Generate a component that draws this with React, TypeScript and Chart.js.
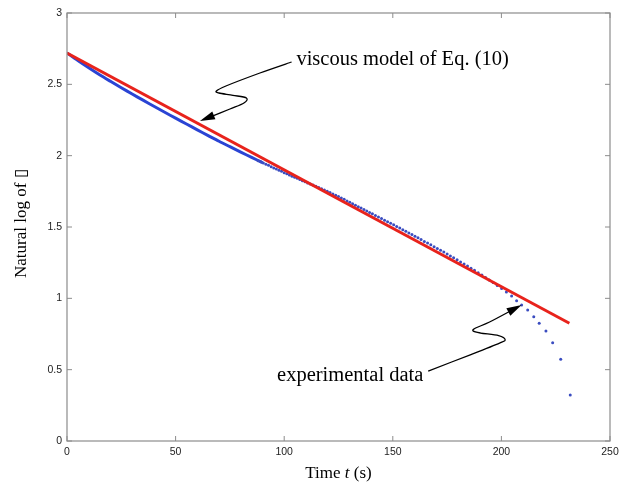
import React, { useEffect, useRef } from "react";
import { Chart, registerables } from "chart.js";

Chart.register(...registerables);

// ---- data ----
const xTicks = [0, 50, 100, 150, 200, 250];
const yTicks = [0, 0.5, 1, 1.5, 2, 2.5, 3];

// viscous model of Eq. (10)
const modelT = [0, 231.3];
const modelY = [2.72, 0.825];

// experimental data (dense early part, appears as a solid line)
const expLineT = [0, 5, 10, 15, 20, 25, 30, 35, 40, 45, 50, 55, 60, 65, 70, 75, 80, 85, 90];
const expLineY = [2.72, 2.667, 2.616, 2.567, 2.521, 2.476, 2.432, 2.389, 2.346, 2.304, 2.263, 2.222, 2.181, 2.141, 2.101, 2.063, 2.025, 1.988, 1.951];

// experimental data (individual samples)
const expDotT = [
  88, 89.2, 90.4, 91.6, 92.8, 94, 95.2, 96.4, 97.6, 98.8, 100, 101.2, 102.4, 103.6, 104.8, 106, 107.2, 108.4, 109.6, 110.8,
  112, 113.3, 114.6, 115.9, 117.2, 118.5, 119.8, 121.1, 122.4, 123.7, 125, 126.3, 127.6, 128.9, 130.2, 131.5, 132.8, 134.1,
  135.4, 136.7, 138, 139.3, 140.6, 142, 143.4, 144.8, 146.2, 147.6, 149, 150.4, 151.8, 153.2, 154.6, 156, 157.4, 158.8,
  160.2, 161.6, 163, 164.5, 166, 167.5, 169, 170.5, 172, 173.5, 175, 176.5, 178, 179.6, 181.2, 182.8, 184.4, 186, 187.6,
  189.3, 191, 192.7, 194.4, 196.2, 198.1, 200.1, 202.3, 204.7, 207, 209.3, 212.1, 214.9, 217.4, 220.5, 223.6, 227.3, 231.7,
];
const expDotY = [
  1.965, 1.957, 1.948, 1.94, 1.932, 1.923, 1.914, 1.906, 1.897, 1.89, 1.881, 1.873, 1.864, 1.856, 1.848, 1.841, 1.833, 1.825, 1.817, 1.809,
  1.802, 1.794, 1.785, 1.776, 1.768, 1.759, 1.75, 1.742, 1.732, 1.723, 1.713, 1.703, 1.694, 1.683, 1.673, 1.663, 1.653, 1.642,
  1.633, 1.622, 1.612, 1.602, 1.592, 1.581, 1.57, 1.559, 1.548, 1.537, 1.526, 1.515, 1.503, 1.493, 1.481, 1.47, 1.458, 1.447,
  1.435, 1.424, 1.413, 1.399, 1.387, 1.375, 1.362, 1.349, 1.337, 1.324, 1.31, 1.297, 1.284, 1.27, 1.255, 1.24, 1.226, 1.211, 1.196,
  1.18, 1.163, 1.146, 1.129, 1.111, 1.09, 1.069, 1.045, 1.016, 0.983, 0.953, 0.918, 0.871, 0.825, 0.771, 0.689, 0.573, 0.322,
];

// annotations: label text and the data point each arrow points to
const annotationLabels = ["viscous model of Eq. (10)", "experimental data"];
const annotationTipT = [61.2, 209.3];
const annotationTipY = [2.243, 0.953];

const xTitleParts = ["Time ", "t", " (s)"];
const yTitle = "Natural log of \u25AF";

const SERIF = '"Liberation Serif", "Times New Roman", "DejaVu Serif", serif';
const SANS = '"Liberation Sans", Arial, sans-serif';

function smoothPath(ctx: CanvasRenderingContext2D, pts: number[][]) {
  ctx.moveTo(pts[0][0], pts[0][1]);
  for (let i = 0; i < pts.length - 1; i++) {
    const p0 = pts[Math.max(0, i - 1)];
    const p1 = pts[i];
    const p2 = pts[i + 1];
    const p3 = pts[Math.min(pts.length - 1, i + 2)];
    const c1x = p1[0] + (p2[0] - p0[0]) / 6;
    const c1y = p1[1] + (p2[1] - p0[1]) / 6;
    const c2x = p2[0] - (p3[0] - p1[0]) / 6;
    const c2y = p2[1] - (p3[1] - p1[1]) / 6;
    ctx.bezierCurveTo(c1x, c1y, c2x, c2y, p2[0], p2[1]);
  }
}

function arrowHead(ctx: CanvasRenderingContext2D, fx: number, fy: number, tx: number, ty: number, len: number, hw: number) {
  const a = Math.atan2(ty - fy, tx - fx);
  const bx = tx - len * Math.cos(a);
  const by = ty - len * Math.sin(a);
  ctx.beginPath();
  ctx.moveTo(tx, ty);
  ctx.lineTo(bx + hw * Math.sin(a), by - hw * Math.cos(a));
  ctx.lineTo(bx - hw * Math.sin(a), by + hw * Math.cos(a));
  ctx.closePath();
  ctx.fill();
}

// squiggle arrow shapes, offsets in px relative to the arrow tip
const arrowShapes = [
  [[91.7, -59], [60, -48], [26, -35], [16.5, -30], [19, -28], [33, -25.7], [46.5, -23], [44, -18], [30, -12], [0, 0]],
  [[-93.4, 66], [-52, 50], [-22, 38], [-16.5, 34.5], [-23, 30.5], [-41, 28], [-48.5, 26], [-46, 23], [-32, 17], [0, 0]],
];
const textOffsets = [[96.5, -61.5], [-244.5, 70.5]];

const framePlugin = {
  id: "frameAndNotes",
  afterDatasetsDraw(chart: any) {
    const { ctx, chartArea: a, scales } = chart;
    const xs = scales.x;
    const ys = scales.y;
    ctx.save();
    ctx.strokeStyle = "#8c8c8c";
    ctx.lineWidth = 1.2;
    ctx.strokeRect(a.left, a.top, a.right - a.left, a.bottom - a.top);
    ctx.lineWidth = 1;
    ctx.beginPath();
    const tl = 5;
    xTicks.forEach((v) => {
      const px = xs.getPixelForValue(v);
      ctx.moveTo(px, a.bottom);
      ctx.lineTo(px, a.bottom - tl);
      ctx.moveTo(px, a.top);
      ctx.lineTo(px, a.top + tl);
    });
    yTicks.forEach((v) => {
      const py = ys.getPixelForValue(v);
      ctx.moveTo(a.left, py);
      ctx.lineTo(a.left + tl, py);
      ctx.moveTo(a.right, py);
      ctx.lineTo(a.right - tl, py);
    });
    ctx.stroke();
    ctx.restore();
  },
  afterDraw(chart: any) {
    const { ctx, chartArea: a, scales } = chart;
    const xs = scales.x;
    const ys = scales.y;
    ctx.save();
    // annotations
    ctx.fillStyle = "#000";
    ctx.strokeStyle = "#000";
    ctx.lineWidth = 1.3;
    annotationLabels.forEach((label, i) => {
      const tx = xs.getPixelForValue(annotationTipT[i]);
      const ty = ys.getPixelForValue(annotationTipY[i]);
      const pts = arrowShapes[i].map((p) => [tx + p[0], ty + p[1]]);
      const n = pts.length;
      const back = pts[n - 2];
      const a2 = Math.atan2(ty - back[1], tx - back[0]);
      const linePts = pts.slice(0, n - 1).concat([[tx - 8 * Math.cos(a2), ty - 8 * Math.sin(a2)]]);
      ctx.beginPath();
      smoothPath(ctx, linePts);
      ctx.stroke();
      arrowHead(ctx, back[0], back[1], tx, ty, 15, 4.2);
      ctx.font = "20.5px " + SERIF;
      ctx.textAlign = "left";
      ctx.textBaseline = "middle";
      ctx.fillText(label, tx + textOffsets[i][0], ty + textOffsets[i][1]);
    });
    // y title
    ctx.save();
    ctx.translate(21.5, (a.top + a.bottom) / 2 - 3.5);
    ctx.rotate(-Math.PI / 2);
    ctx.font = "17px " + SERIF;
    ctx.textAlign = "center";
    ctx.textBaseline = "middle";
    ctx.fillText(yTitle, 0, 0);
    ctx.restore();
    // x title with italic t
    const fonts = ["17px " + SERIF, "italic 17px " + SERIF, "17px " + SERIF];
    let total = 0;
    const widths = xTitleParts.map((s, i) => {
      ctx.font = fonts[i];
      const w = ctx.measureText(s).width;
      total += w;
      return w;
    });
    let x0 = (a.left + a.right) / 2 - total / 2;
    ctx.textAlign = "left";
    ctx.textBaseline = "middle";
    xTitleParts.forEach((s, i) => {
      ctx.font = fonts[i];
      ctx.fillText(s, x0, a.bottom + 33);
      x0 += widths[i];
    });
    ctx.restore();
  },
};

export default function App() {
  const ref = useRef<HTMLCanvasElement | null>(null);
  useEffect(() => {
    if (!ref.current) return;
    const chart = new Chart(ref.current, {
      type: "scatter",
      data: {
        datasets: [
          {
            label: "viscous model of Eq. (10)",
            data: modelT.map((t, i) => ({ x: t, y: modelY[i] })),
            showLine: true,
            borderColor: "#e8231c",
            borderWidth: 3,
            pointRadius: 0,
          },
          {
            label: "experimental data",
            data: expDotT.map((t, i) => ({ x: t, y: expDotY[i] })),
            showLine: false,
            pointRadius: 1.5,
            pointBorderWidth: 0,
            backgroundColor: "#3a4cc0",
            borderColor: "#3a4cc0",
          },
          {
            label: "experimental data (dense)",
            data: expLineT.map((t, i) => ({ x: t, y: expLineY[i] })),
            showLine: true,
            borderColor: "#2a44d4",
            borderWidth: 3,
            pointRadius: 0,
            tension: 0.3,
          },
        ],
      },
      options: {
        responsive: false,
        animation: false,
        events: [],
        layout: { padding: { top: 13, right: 20, left: 0, bottom: 0 } },
        plugins: { legend: { display: false }, tooltip: { enabled: false }, title: { display: false } },
        scales: {
          x: {
            type: "linear",
            min: 0,
            max: 250,
            afterBuildTicks: (s: any) => {
              s.ticks = xTicks.map((v) => ({ value: v }));
            },
            afterFit: (s: any) => {
              s.height = 42;
            },
            grid: { display: false, drawTicks: false },
            border: { display: false },
            ticks: {
              padding: 5,
              maxRotation: 0,
              autoSkip: false,
              color: "#222",
              font: { family: SANS, size: 10.5 },
              callback: (v: any) => String(v),
            },
          },
          y: {
            type: "linear",
            min: 0,
            max: 3,
            afterBuildTicks: (s: any) => {
              s.ticks = yTicks.map((v) => ({ value: v }));
            },
            afterFit: (s: any) => {
              s.width = 67;
            },
            grid: { display: false, drawTicks: false },
            border: { display: false },
            ticks: {
              padding: 5,
              autoSkip: false,
              color: "#222",
              font: { family: SANS, size: 10.5 },
              callback: (v: any) => String(v),
            },
          },
        },
      },
      plugins: [framePlugin],
    });
    return () => chart.destroy();
  }, []);
  return (
    <div style={{ position: "absolute", left: 0, top: 0, width: 630, height: 483, background: "#fff" }}>
      <canvas ref={ref} width={630} height={483} style={{ display: "block" }} />
    </div>
  );
}
